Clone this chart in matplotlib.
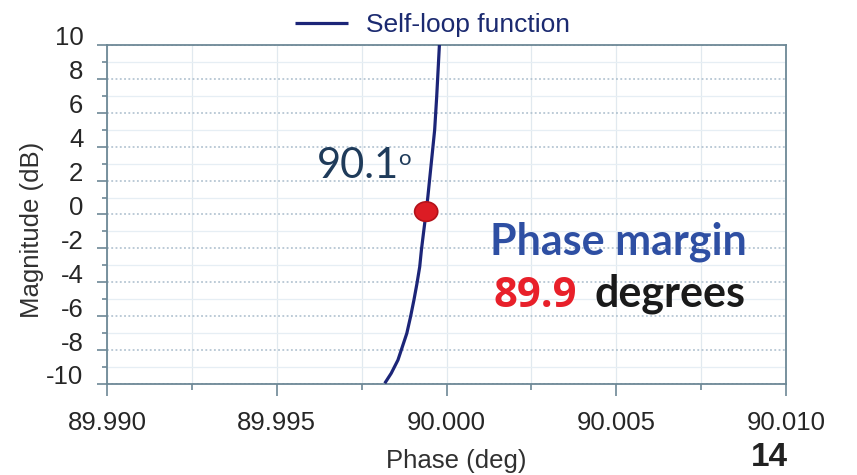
import matplotlib
matplotlib.use("Agg")
import matplotlib.pyplot as plt
import matplotlib.transforms as mtransforms
from matplotlib.patches import Ellipse

# values
phase = [89.99818, 89.99837, 89.99857, 89.99883, 89.99894, 89.99904, 89.99913,
         89.99921, 89.99926, 89.99932, 89.99940, 89.99945, 89.99955, 89.99965,
         89.99971, 89.99979]
magnitude = [-9.96, -9.37, -8.58, -7.01, -6.03, -5.04, -4.06, -3.08, -2.09,
             -1.11, 0.17, 1.05, 3.02, 4.99, 6.95, 10.0]
crossing_phase = [89.99940]
crossing_mag = [0.17]
x_ticks = [89.990, 89.995, 90.000, 90.005, 90.010]
x_tick_labels = ["89.990", "89.995", "90.000", "90.005", "90.010"]
y_ticks = [-10, -8, -6, -4, -2, 0, 2, 4, 6, 8, 10]

axis_col = "#6d8896"
line_col = "#1c2578"
tick_font = "Liberation Sans"

fig = plt.figure(figsize=(8.57, 4.75), dpi=100)
ax = fig.add_axes([0.1249, 0.1916, 0.7923, 0.7137])

line, = ax.plot(phase, magnitude, color=line_col, lw=2.3, label="Self-loop function",
                solid_capstyle="butt", solid_joinstyle="round", zorder=3)
ax.add_patch(Ellipse((crossing_phase[0], crossing_mag[0]), 6.8e-4, 1.15,
                     facecolor="#dc1c24", edgecolor="#b3121a", lw=1.2, zorder=4))

ax.set_xlim(89.990, 90.010)
ax.set_ylim(-10, 10)
ax.set_xticks(x_ticks, x_tick_labels)
ax.set_xticks([89.9925, 89.9975, 90.0025, 90.0075], minor=True)
ax.set_yticks(y_ticks, [str(v) for v in y_ticks])
ax.set_yticks([-9, -7, -5, -3, -1, 1, 3, 5, 7, 9], minor=True)

# grid
ax.grid(axis="y", which="major", color="#a9bccb", ls=(0, (1.2, 1.6)), lw=1.1)
ax.grid(axis="y", which="minor", color="#e6eef4", ls="-", lw=0.9)
ax.grid(axis="x", which="both", color="#e1e9ef", ls="-", lw=0.9)
ax.set_axisbelow(True)

for s in ax.spines.values():
    s.set_color(axis_col)
    s.set_linewidth(1.3)

ax.tick_params(axis="x", which="major", length=8.6, width=1.2, color=axis_col,
               pad=10.5, labelsize=18.5, labelcolor="#262626")
ax.tick_params(axis="x", which="minor", length=4.5, width=1.2, color=axis_col)
ax.tick_params(axis="y", which="major", length=7, width=1.2, color=axis_col,
               pad=10, labelsize=18.5, labelcolor="#262626")
ax.tick_params(axis="y", which="minor", length=3.6, width=1.2, color=axis_col)
for lab in ax.get_xticklabels() + ax.get_yticklabels():
    lab.set_fontfamily(tick_font)

# y tick labels sit a little above their ticks in the reference
shift = mtransforms.ScaledTranslation(0, 9 / 100, fig.dpi_scale_trans)
for lab in ax.get_yticklabels():
    lab.set_transform(lab.get_transform() + shift)

ax.set_xlabel("Phase (deg)", fontsize=18.5, family=tick_font, color="#303030", va="center")
ax.xaxis.set_label_coords(0.514, -0.226)
ax.set_ylabel("Magnitude (dB)", fontsize=18.5, family=tick_font, color="#303030",
              va="center", ha="center")
ax.yaxis.set_label_coords(-0.110, 0.454)

leg = ax.legend(handles=[line], loc="center", bbox_to_anchor=(0.479, 1.058),
                frameon=False, borderpad=0, borderaxespad=0, handlelength=2.0,
                handletextpad=0.68, prop={"family": tick_font, "size": 19})
for t in leg.get_texts():
    t.set_color("#1b2a70")

W, H = 857, 475
def fx(px):
    return px / W
def fy(py):
    return 1 - py / H

fig.text(fx(317), fy(178), "90.1", family="Lato", fontsize=30, color="#1f3b5a",
         ha="left", va="baseline")
fig.text(fx(398), fy(165), "o", family="Lato", fontsize=16, color="#1f3b5a",
         ha="left", va="baseline")
fig.text(fx(618), fy(255), "Phase margin", family="Lato", weight="bold", fontsize=31,
         color="#2e4fa3", ha="center", va="baseline")
fig.text(fx(577), fy(307), "89.9", family="Open Sans", weight="bold",
         fontsize=30, color="#e8202a", ha="right", va="baseline")
fig.text(fx(595), fy(307), "degrees", family="Lato", weight="bold", fontsize=31,
         color="#1a1a1a", ha="left", va="baseline")
fig.text(fx(769), fy(457), "14", family=["Liberation Sans Narrow", "Liberation Sans"],
         weight="bold", fontsize=24, color="#222222", ha="center", va="center")

fig.savefig("out.png", dpi=100)
